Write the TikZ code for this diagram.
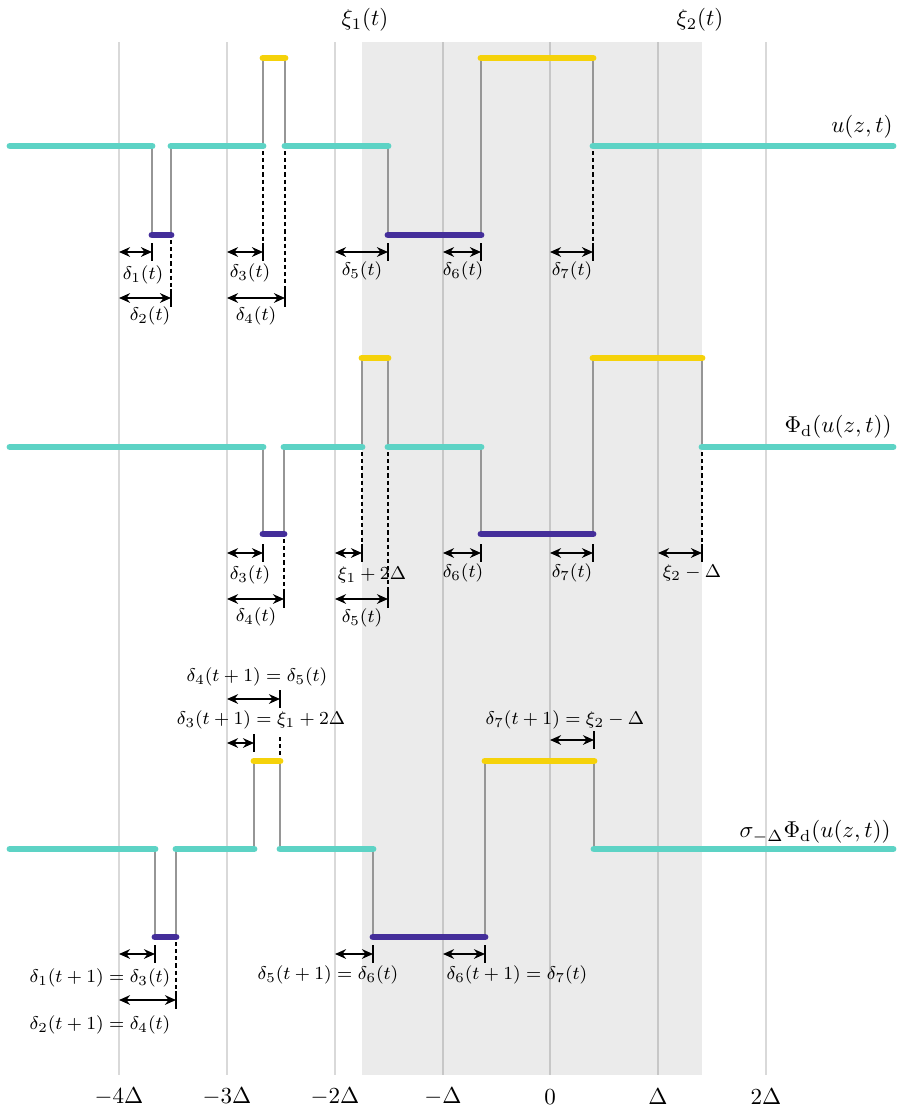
\documentclass[tikz,border=0pt]{standalone}
\usetikzlibrary{arrows.meta}
\definecolor{cteal}{RGB}{93,211,197}
\definecolor{cpurp}{RGB}{68,46,154}
\definecolor{cyell}{RGB}{245,210,10}
\definecolor{cband}{RGB}{235,235,235}
\definecolor{cstep}{RGB}{150,150,150}
\tikzset{
  seg/.style={line width=3pt, line cap=round},
  tl/.style={seg, draw=cteal},
  pp/.style={seg, draw=cpurp},
  yl/.style={seg, draw=cyell},
  stepline/.style={draw=cstep, line width=0.75pt},
  gridline/.style={draw=black, draw opacity=0.15, line width=0.8pt},
  meas/.style={{Stealth[length=4.8pt,width=4.2pt]}-{Stealth[length=4.8pt,width=4.2pt]}, line width=0.9pt},
  tickline/.style={line width=0.9pt},
  dsh/.style={line width=0.75pt, dash pattern=on 1.8pt off 1.3pt},
  lab/.style={font=\footnotesize, inner sep=0pt},
  biglab/.style={inner sep=0pt},
}
\newcommand{\mymeas}[4]{% x1 x2 y name
  \draw[meas] (#1,#3) -- (#2,#3);
  \draw[tickline] (#2,#3-9) -- (#2,#3+9);
}
\begin{document}
\begin{tikzpicture}[x=0.435pt,y=-0.435pt]
\useasboundingbox (0,0) rectangle (898,1112);
% band
\fill[cband] (362,42) rectangle (702,1075);
% grid
\foreach \gx in {119,227,335,443,550,658,766}{
  \draw[gridline] (\gx,42) -- (\gx,1075);
}
% axis labels
\node[biglab] (a1) at (119,1097) {$-4\Delta$};
\node[biglab] (a2) at (227,1097) {$-3\Delta$};
\node[biglab] (a3) at (335,1097) {$-2\Delta$};
\node[biglab] (a4) at (443,1097) {$-\Delta$};
\node[biglab] (a5) at (550,1097) {$0$};
\node[biglab] (a6) at (658,1097) {$\Delta$};
\node[biglab] (a7) at (766,1097) {$2\Delta$};
% top labels
\node[biglab] (xi1) at (365,20) {$\xi_1(t)$};
\node[biglab] (xi2) at (700,20) {$\xi_2(t)$};

%%%%%%%%%% ROW 1
\draw[stepline] (152,146) -- (152,235);
\draw[stepline] (171,235) -- (171,146);
\draw[stepline] (263,146) -- (263,58);
\draw[stepline] (285,58) -- (285,146);
\draw[stepline] (388,146) -- (388,235);
\draw[stepline] (481,235) -- (481,58);
\draw[stepline] (593,58) -- (593,146);
\draw[tl] (10,146) -- (152,146);
\draw[pp] (152,235) -- (171,235);
\draw[tl] (171,146) -- (263,146);
\draw[yl] (263,58) -- (285,58);
\draw[tl] (285,146) -- (388,146);
\draw[pp] (388,235) -- (481,235);
\draw[yl] (481,58) -- (593,58);
\draw[tl] (593,146) -- (893,146);
\node[biglab, anchor=east] (r1) at (893,127) {$u(z,t)$};
% dashed
\draw[dsh] (171,240) -- (171,289);
\draw[dsh] (263,151) -- (263,243);
\draw[dsh] (285,151) -- (285,289);
\draw[dsh] (593,151) -- (593,243);
% measures
\mymeas{119}{152}{252}{}
\mymeas{119}{171}{298}{}
\mymeas{227}{263}{252}{}
\mymeas{227}{285}{298}{}
\mymeas{335}{388}{252}{}
\mymeas{443}{481}{252}{}
\mymeas{550}{593}{252}{}
\node[lab] (l11) at (143,275) {$\delta_1(t)$};
\node[lab] (l12) at (150,316) {$\delta_2(t)$};
\node[lab] (l13) at (250,273) {$\delta_3(t)$};
\node[lab] (l14) at (256,316) {$\delta_4(t)$};
\node[lab] (l15) at (362,271) {$\delta_5(t)$};
\node[lab] (l16) at (463,271) {$\delta_6(t)$};
\node[lab] (l17) at (572,271) {$\delta_7(t)$};

%%%%%%%%%% ROW 2
\draw[stepline] (263,447) -- (263,534);
\draw[stepline] (284,534) -- (284,447);
\draw[stepline] (362,447) -- (362,358);
\draw[stepline] (388,358) -- (388,447);
\draw[stepline] (481,447) -- (481,534);
\draw[stepline] (593,534) -- (593,358);
\draw[stepline] (702,358) -- (702,447);
\draw[tl] (10,447) -- (263,447);
\draw[pp] (263,534) -- (284,534);
\draw[tl] (284,447) -- (362,447);
\draw[yl] (362,358) -- (388,358);
\draw[tl] (388,447) -- (481,447);
\draw[pp] (481,534) -- (593,534);
\draw[yl] (593,358) -- (702,358);
\draw[tl] (702,447) -- (893,447);
\node[biglab, anchor=east] (r2) at (892,427) {$\Phi_{\mathrm{d}}(u(z,t))$};
\draw[dsh] (284,539) -- (284,590);
\draw[dsh] (362,452) -- (362,544);
\draw[dsh] (388,452) -- (388,590);
\draw[dsh] (702,452) -- (702,544);
\mymeas{227}{263}{553}{}
\mymeas{227}{284}{599}{}
\mymeas{335}{362}{553}{}
\mymeas{335}{388}{599}{}
\mymeas{443}{481}{553}{}
\mymeas{550}{593}{553}{}
\mymeas{658}{702}{553}{}
\node[lab] (l23) at (250,575) {$\delta_3(t)$};
\node[lab] (l24) at (256,617) {$\delta_4(t)$};
\node[lab] (l2x) at (372,575) {$\xi_1+2\Delta$};
\node[lab] (l25) at (362,618) {$\delta_5(t)$};
\node[lab] (l26) at (463,573) {$\delta_6(t)$};
\node[lab] (l27) at (572,573) {$\delta_7(t)$};
\node[lab] (l2y) at (692,573) {$\xi_2-\Delta$};

%%%%%%%%%% ROW 3
\draw[stepline] (155,849) -- (155,937);
\draw[stepline] (176,937) -- (176,849);
\draw[stepline] (254,849) -- (254,761);
\draw[stepline] (280,761) -- (280,849);
\draw[stepline] (373,849) -- (373,937);
\draw[stepline] (485,937) -- (485,761);
\draw[stepline] (594,761) -- (594,849);
\draw[tl] (10,849) -- (155,849);
\draw[pp] (155,937) -- (176,937);
\draw[tl] (176,849) -- (254,849);
\draw[yl] (254,761) -- (280,761);
\draw[tl] (280,849) -- (373,849);
\draw[pp] (373,937) -- (485,937);
\draw[yl] (485,761) -- (594,761);
\draw[tl] (594,849) -- (893,849);
\node[biglab, anchor=east] (r3) at (891,832) {$\sigma_{-\Delta}\Phi_{\mathrm{d}}(u(z,t))$};
\draw[dsh] (280,737) -- (280,756);
\draw[dsh] (176,942) -- (176,991);
\mymeas{227}{280}{699}{}
\mymeas{227}{254}{743}{}
\mymeas{550}{594}{740}{}
\mymeas{119}{155}{954}{}
\mymeas{119}{176}{1000}{}
\mymeas{335}{373}{954}{}
\mymeas{443}{485}{954}{}
\node[lab] (l3a) at (257,677) {$\delta_4(t+1)=\delta_5(t)$};
\node[lab] (l3b) at (261,720) {$\delta_3(t+1)=\xi_1+2\Delta$};
\node[lab] (l3c) at (565,720) {$\delta_7(t+1)=\xi_2-\Delta$};
\node[lab] (l3d) at (100,978) {$\delta_1(t+1)=\delta_3(t)$};
\node[lab] (l3e) at (100,1025) {$\delta_2(t+1)=\delta_4(t)$};
\node[lab] (l3f) at (328,975) {$\delta_5(t+1)=\delta_6(t)$};
\node[lab] (l3g) at (517,975) {$\delta_6(t+1)=\delta_7(t)$};
\end{tikzpicture}
\end{document}
